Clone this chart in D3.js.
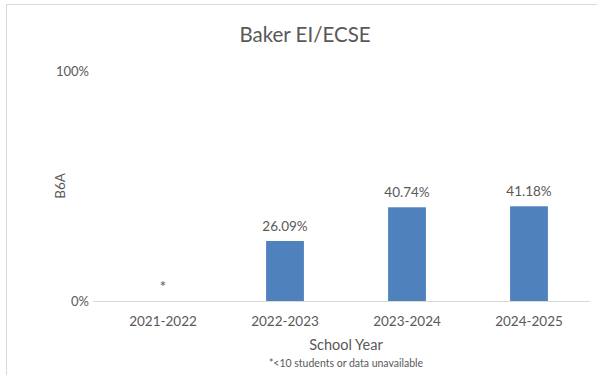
<!DOCTYPE html>
<html>
<head>
<meta charset="utf-8">
<script src="https://d3js.org/d3.v7.min.js"></script>
<style>
  body { margin: 0; background: #fff; }
  text { font-family: Lato, "Open Sans", sans-serif; fill: #595959; }
</style>
</head>
<body>
<svg width="597" height="375"></svg>
<script>
  const years = ['2021-2022', '2022-2023', '2023-2024', '2024-2025'];
  const values = [null, 26.09, 40.74, 41.18];
  const yTicks = [0, 100];

  const svg = d3.select('svg');
  const margin = { top: 71, right: 7, bottom: 74, left: 102 };
  const innerWidth = 597 - margin.left - margin.right;
  const innerHeight = 375 - margin.top - margin.bottom;

  // chart frame
  svg.append('path')
    .attr('d', 'M6.5,375 V4.5 H597')
    .attr('fill', 'none')
    .attr('stroke', '#d9d9d9');

  const data = years.map((y, i) => ({ year: y, value: values[i] }));

  const x = d3.scaleBand().domain(years).range([0, innerWidth]).paddingInner(0.69).paddingOuter(0.345);
  const y = d3.scaleLinear().domain([0, 100]).range([innerHeight, 0]);

  const g = svg.append('g').attr('transform', `translate(${margin.left},${margin.top})`);

  svg.append('text')
    .attr('x', 305).attr('y', 42)
    .attr('text-anchor', 'middle')
    .style('font-size', '20.5px')
    .text('Baker EI/ECSE');

  // y axis (labels only)
  const yAxis = g.append('g')
    .call(d3.axisLeft(y).tickValues(yTicks).tickFormat(d => d + '%').tickSize(0).tickPadding(13));
  yAxis.select('.domain').remove();
  yAxis.selectAll('text').style('font-size', '13px').style('fill', '#595959');

  // baseline
  g.append('line')
    .attr('x1', -9).attr('x2', innerWidth)
    .attr('y1', innerHeight + 0.5).attr('y2', innerHeight + 0.5)
    .attr('stroke', '#d9d9d9');

  const xAxis = g.append('g')
    .attr('transform', `translate(0,${innerHeight})`)
    .call(d3.axisBottom(x).tickSize(0).tickPadding(15));
  xAxis.select('.domain').remove();
  xAxis.selectAll('text').style('font-size', '13.5px').style('fill', '#595959');

  g.selectAll('.bar')
    .data(data.filter(d => d.value != null))
    .enter().append('rect')
    .attr('class', 'bar')
    .attr('x', d => x(d.year))
    .attr('width', x.bandwidth())
    .attr('y', d => y(d.value))
    .attr('height', d => innerHeight - y(d.value))
    .attr('fill', '#4f81bd');

  g.selectAll('.lbl')
    .data(data)
    .enter().append('text')
    .attr('class', 'lbl')
    .attr('x', d => x(d.year) + x.bandwidth() / 2)
    .attr('y', d => d.value == null ? innerHeight - 9 : y(d.value) - 10)
    .attr('text-anchor', 'middle')
    .style('font-size', d => d.value == null ? '16px' : '13.5px')
    .text(d => d.value == null ? '*' : d.value.toFixed(2) + '%');

  svg.append('text')
    .attr('transform', 'translate(65,186) rotate(-90)')
    .attr('text-anchor', 'middle')
    .style('font-size', '13.5px')
    .text('B6A');

  svg.append('text')
    .attr('x', 346).attr('y', 350)
    .attr('text-anchor', 'middle')
    .style('font-size', '14.5px')
    .text('School Year');

  svg.append('text')
    .attr('x', 346).attr('y', 367)
    .attr('text-anchor', 'middle')
    .style('font-size', '10.5px')
    .text('*<10 students or data unavailable');
</script>
</body>
</html>
